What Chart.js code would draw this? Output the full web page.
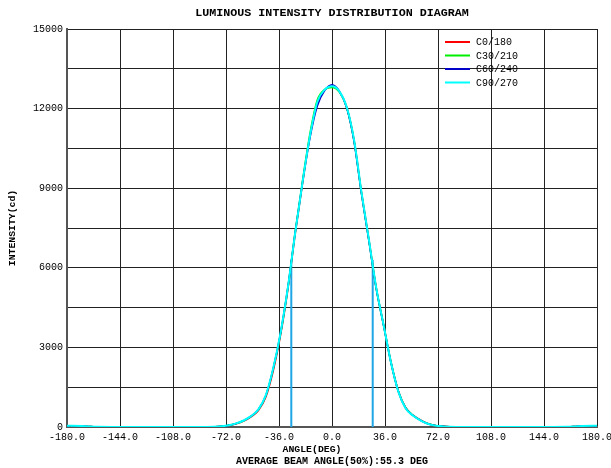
<!DOCTYPE html>
<html>
<head>
<meta charset="utf-8">
<title>Luminous Intensity Distribution Diagram</title>
<script src="https://cdn.jsdelivr.net/npm/chart.js@4.4.1/dist/chart.umd.min.js"></script>
<style>
  html, body { margin: 0; padding: 0; background: #fff; }
  #wrap { width: 611px; height: 468px; position: relative; }
</style>
</head>
<body>
<div id="wrap"><canvas id="ldtChart"></canvas></div>
<script>
const chartTitle = 'LUMINOUS INTENSITY DISTRIBUTION DIAGRAM';
const xTitle = 'ANGLE(DEG)';
const yTitle = 'INTENSITY(cd)';
const beamNote = 'AVERAGE BEAM ANGLE(50%):55.3 DEG';

const angles = [-180, -170, -165, -160, -150, -140, -130, -120, -110, -100, -90, -85,
  -80, -75, -70, -65, -60, -55, -50, -45, -40, -35, -30, -25, -20, -15, -10, -5,
  0, 5, 10, 15, 20, 25, 30, 35, 40, 45, 50, 55, 60, 65, 70, 75, 80, 85,
  90, 100, 110, 120, 130, 140, 150, 160, 165, 170, 180];

const c0 = [45, 40, 20, 5, 0, 0, 0, 0, 0, 0, 0, 3,
  8, 22, 55, 120, 225, 385, 620, 1120, 2100, 3450, 5180, 7280, 9200, 10950, 12230, 12700,
  12830, 12640, 12050, 10800, 8850, 7080, 5250, 3860, 2460, 1370, 730, 445, 262, 132, 58, 26, 9, 2,
  0, 0, 0, 0, 0, 0, 0, 5, 20, 40, 45];

const c30 = [45, 40, 20, 5, 0, 0, 0, 0, 0, 0, 0, 3,
  10, 25, 60, 130, 235, 400, 650, 1170, 2170, 3500, 5230, 7350, 9280, 11050, 12320, 12720,
  12800, 12620, 12030, 10780, 8820, 7060, 5240, 3850, 2450, 1360, 725, 440, 260, 128, 56, 25, 8, 2,
  0, 0, 0, 0, 0, 0, 0, 5, 20, 40, 45];

const c60 = [45, 40, 20, 5, 0, 0, 0, 0, 0, 0, 0, 3,
  10, 25, 62, 135, 240, 405, 660, 1180, 2180, 3520, 5250, 7330, 9220, 10900, 12100, 12680,
  12900, 12660, 12030, 10760, 8800, 7040, 5230, 3840, 2440, 1350, 715, 435, 255, 125, 55, 24, 8, 2,
  0, 0, 0, 0, 0, 0, 0, 5, 20, 40, 45];

const c90 = [45, 40, 20, 5, 0, 0, 0, 0, 0, 0, 0, 3,
  10, 26, 64, 138, 245, 410, 665, 1190, 2200, 3530, 5240, 7320, 9230, 10960, 12250, 12710,
  12840, 12650, 12060, 10820, 8860, 7090, 5260, 3860, 2450, 1350, 710, 430, 250, 120, 52, 22, 7, 2,
  0, 0, 0, 0, 0, 0, 0, 5, 20, 40, 45];

const seriesNames = ['C0/180', 'C30/210', 'C60/240', 'C90/270'];
const seriesColors = ['#ff0000', '#00ee00', '#0000c8', '#00ffff'];

// beam angle markers (half-max crossings)
const beamLeft = [-27.65, -27.65];
const beamRight = [27.65, 27.65];
const beamY = [0, 6300];

const xTicks = [-180, -144, -108, -72, -36, 0, 36, 72, 108, 144, 180];
const yLabelTicks = [0, 3000, 6000, 9000, 12000, 15000];

const monoFont = '"Liberation Mono", "DejaVu Sans Mono", monospace';

function toPoints(xs, ys) {
  return xs.map((x, i) => ({ x, y: ys[i] }));
}

const curveSets = [c0, c30, c60, c90].map((vals, i) => ({
  label: seriesNames[i],
  data: toPoints(angles, vals),
  borderColor: seriesColors[i],
  borderWidth: i === 3 ? 2 : 1.6,
  pointRadius: 0,
  cubicInterpolationMode: 'monotone',
  order: 4 - i,
}));

const beamSets = [beamLeft, beamRight].map(xs => ({
  label: 'beam',
  data: toPoints(xs, beamY),
  borderColor: '#1ea6e6',
  borderWidth: 2,
  pointRadius: 0,
  order: 6,
}));

const textPlugin = {
  id: 'ldtText',
  beforeDraw(chart) {
    const { ctx } = chart;
    ctx.save();
    ctx.fillStyle = '#fff';
    ctx.fillRect(0, 0, chart.width, chart.height);
    ctx.restore();
  },
  afterDraw(chart) {
    const { ctx, chartArea } = chart;
    const midX = (chartArea.left + chartArea.right) / 2;
    ctx.save();
    ctx.fillStyle = '#000';
    ctx.textAlign = 'center';
    ctx.textBaseline = 'middle';

    ctx.font = 'bold 11.7px ' + monoFont;
    ctx.fillText(chartTitle, 332, 13.5);

    ctx.font = 'bold 9.8px ' + monoFont;
    ctx.fillText(xTitle, 312, 450);
    ctx.font = 'bold 10px ' + monoFont;
    ctx.fillText(beamNote, midX, 461.5);

    ctx.save();
    ctx.translate(13, 228);
    ctx.rotate(-Math.PI / 2);
    ctx.font = 'bold 9.8px ' + monoFont;
    ctx.fillText(yTitle, 0, 0);
    ctx.restore();

    // legend inside plot, top right
    ctx.textAlign = 'left';
    ctx.font = '10px ' + monoFont;
    seriesNames.forEach((name, i) => {
      const y = 42 + i * 13.5;
      ctx.strokeStyle = seriesColors[i];
      ctx.lineWidth = 2;
      ctx.beginPath();
      ctx.moveTo(445, y);
      ctx.lineTo(470, y);
      ctx.stroke();
      ctx.fillStyle = '#000';
      ctx.fillText(name, 476, y + 0.5);
    });
    ctx.restore();
  },
};

new Chart(document.getElementById('ldtChart'), {
  type: 'line',
  data: { datasets: [...curveSets, ...beamSets] },
  options: {
    responsive: true,
    maintainAspectRatio: false,
    animation: false,
    devicePixelRatio: 1,
    layout: { padding: { top: 29, right: 14, bottom: 0, left: 0 } },
    plugins: {
      legend: { display: false },
      tooltip: { enabled: false },
      title: { display: false },
    },
    scales: {
      x: {
        type: 'linear',
        min: -180,
        max: 180,
        afterBuildTicks: scale => {
          scale.ticks = xTicks.map(v => ({ value: v }));
        },
        afterFit: scale => {
          scale.height = 41;
          scale.paddingLeft = 0;
          scale.paddingRight = 0;
        },
        ticks: {
          autoSkip: false,
          maxRotation: 0,
          padding: 4,
          color: '#000',
          font: { family: monoFont, size: 10 },
          callback: v => v.toFixed(1),
        },
        grid: { color: '#222', lineWidth: 1, drawTicks: false },
        border: { color: '#555', width: 2 },
      },
      y: {
        type: 'linear',
        min: 0,
        max: 15000,
        ticks: {
          stepSize: 1500,
          padding: 4,
          color: '#000',
          font: { family: monoFont, size: 10 },
          callback: v => (yLabelTicks.includes(v) ? String(v) : ''),
        },
        afterFit: scale => {
          scale.width = 67;
          scale.paddingTop = 0;
          scale.paddingBottom = 0;
        },
        grid: { color: '#222', lineWidth: 1, drawTicks: false },
        border: { color: '#555', width: 2 },
      },
    },
  },
  plugins: [textPlugin],
});
</script>
</body>
</html>
